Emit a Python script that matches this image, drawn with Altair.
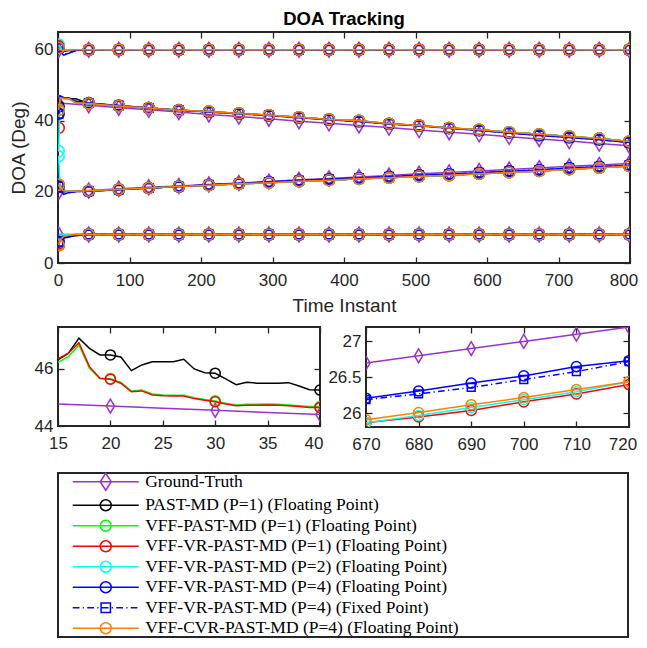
import altair as alt
import pandas as pd

# ---------------- data ----------------
ALGOS = [
    "Ground-Truth",
    "PAST-MD (P=1) (Floating Point)",
    "VFF-PAST-MD (P=1) (Floating Point)",
    "VFF-VR-PAST-MD (P=1) (Floating Point)",
    "VFF-VR-PAST-MD (P=2) (Floating Point)",
    "VFF-VR-PAST-MD (P=4) (Floating Point)",
    "VFF-VR-PAST-MD (P=4) (Fixed Point)",
    "VFF-CVR-PAST-MD (P=4) (Floating Point)",
]
COLORS = ["#9933CC", "#000000", "#00FF00", "#FF0000", "#00FFFF", "#0000FF", "#0000FF", "#FF8000"]

# main panel: marker instants
T_MARK = [1, 43, 85, 127, 169, 211, 253, 295, 337, 379, 421, 463, 505, 547, 589, 631, 673, 715, 757, 799]
# ground truth at marker instants, four sources
GT_S1 = [60.0, 60.0, 60.0, 60.0, 60.0, 60.0, 60.0, 60.0, 60.0, 60.0, 60.0, 60.0, 60.0, 60.0, 60.0, 60.0, 60.0, 60.0, 60.0, 60.0]
GT_S2 = [45.0, 44.4, 43.7, 43.1, 42.5, 41.8, 41.2, 40.6, 39.9, 39.3, 38.7, 38.1, 37.4, 36.8, 36.2, 35.5, 34.9, 34.3, 33.6, 33.0]
GT_S3 = [20.0, 20.4, 20.9, 21.3, 21.7, 22.1, 22.5, 22.9, 23.4, 23.8, 24.2, 24.6, 25.1, 25.5, 25.9, 26.3, 26.7, 27.2, 27.6, 28.0]
GT_S4 = [8.0, 8.0, 8.0, 8.0, 8.0, 8.0, 8.0, 8.0, 8.0, 8.0, 8.0, 8.0, 8.0, 8.0, 8.0, 8.0, 8.0, 8.0, 8.0, 8.0]

# estimates at marker instants 43..799 (after the start-up transient)
EST_S1 = [60.0, 60.0, 60.0, 60.0, 60.0, 60.0, 60.0, 60.0, 60.0, 60.0, 60.0, 60.0, 60.0, 60.0, 60.0, 60.0, 60.0, 60.0, 60.0]
EST_S2 = [44.9, 44.2, 43.6, 43.0, 42.6, 42.1, 41.6, 41.0, 40.4, 40.0, 39.2, 38.7, 38.0, 37.5, 36.8, 36.2, 35.6, 35.0, 34.2]
EST_S2_P4 = [45.0, 44.3, 43.6, 43.0, 42.5, 42.0, 41.5, 40.9, 40.3, 39.8, 39.1, 38.6, 37.9, 37.3, 36.6, 35.9, 35.3, 34.7, 33.9]
EST_S3 = [20.3, 20.7, 21.1, 21.5, 21.9, 22.3, 22.6, 23.0, 23.3, 23.7, 24.0, 24.4, 24.7, 25.1, 25.5, 25.9, 26.4, 26.8, 27.3]
EST_S3_P4 = [20.2, 20.6, 21.1, 21.5, 22.0, 22.4, 22.8, 23.2, 23.6, 23.9, 24.3, 24.7, 25.0, 25.4, 25.8, 26.2, 26.7, 27.1, 27.5]
EST_S4 = [8.0, 8.0, 8.0, 8.0, 8.0, 8.0, 8.0, 8.0, 8.0, 8.0, 8.0, 8.0, 8.0, 8.0, 8.0, 8.0, 8.0, 8.0, 8.0]

# start-up transient instants and values (algorithms 1..7, in legend order)
T_TRANS = [1, 3, 8, 15, 25]
TR_S1 = [
    [61.0, 60.5, 59.5, 59.8, 60.0],
    [61.0, 60.5, 59.8, 60.0, 60.0],
    [61.0, 60.3, 59.8, 60.0, 60.0],
    [61.5, 60.5, 60.0, 60.0, 60.0],
    [60.5, 59.5, 58.5, 59.0, 59.8],
    [60.5, 59.5, 58.7, 59.2, 59.8],
    [60.5, 60.0, 59.8, 60.0, 60.0],
]
TR_S2 = [
    [44.0, 46.5, 46.5, 46.3, 46.2],
    [43.0, 46.5, 46.3, 46.2, 45.1],
    [38.0, 46.5, 46.3, 46.3, 45.1],
    [31.5, 46.5, 46.2, 46.3, 45.1],
    [42.0, 47.0, 46.5, 46.5, 45.5],
    [42.0, 47.0, 46.5, 46.5, 45.5],
    [43.0, 46.5, 46.3, 46.3, 45.1],
]
TR_S3 = [
    [22.0, 21.5, 20.5, 20.0, 20.1],
    [22.0, 21.5, 20.5, 20.2, 20.2],
    [22.0, 22.0, 20.5, 20.2, 20.2],
    [30.0, 21.5, 20.5, 20.2, 20.2],
    [21.5, 20.5, 19.3, 19.8, 20.1],
    [21.5, 20.5, 19.5, 19.8, 20.1],
    [22.0, 21.0, 20.3, 20.2, 20.2],
]
TR_S4 = [
    [5.0, 6.5, 7.0, 7.3, 7.7],
    [5.5, 7.0, 7.5, 7.8, 8.0],
    [5.5, 7.0, 7.5, 7.8, 8.0],
    [6.0, 8.3, 8.0, 8.0, 8.0],
    [6.0, 6.5, 7.0, 7.5, 7.9],
    [6.0, 6.5, 7.0, 7.5, 7.9],
    [5.0, 6.5, 7.5, 7.8, 8.0],
]

# zoom panel 1 (instants 15..40, second source)
ZL_T = [15, 16, 17, 18, 19, 20, 21, 22, 23, 24, 25, 26, 27, 28, 29, 30, 31, 32, 33, 34, 35, 36, 37, 38, 39, 40]
ZL_BLACK = [46.32, 46.55, 47.08, 46.72, 46.49, 46.49, 46.42, 45.94, 46.14, 46.25, 46.25, 46.25, 46.34, 46.0, 45.87, 45.85,
            45.65, 45.45, 45.53, 45.5, 45.5, 45.5, 45.52, 45.4, 45.27, 45.26]
ZL_GREEN = [46.23, 46.43, 46.84, 46.02, 45.66, 45.66, 45.53, 45.23, 45.26, 45.12, 45.09, 45.08, 45.08, 44.99, 44.93, 44.88,
            44.8, 44.74, 44.76, 44.76, 44.77, 44.76, 44.74, 44.71, 44.68, 44.68]
ZL_RED = [46.35, 46.55, 46.92, 46.08, 45.67, 45.64, 45.5, 45.2, 45.23, 45.09, 45.06, 45.05, 45.05, 44.96, 44.9, 44.85,
          44.77, 44.71, 44.73, 44.73, 44.74, 44.73, 44.71, 44.68, 44.65, 44.65]
ZL_GT_T = [15, 20, 25, 30, 35, 40]
ZL_GT = [44.77, 44.7, 44.62, 44.55, 44.47, 44.4]
ZL_MARK = [20, 30, 40]

# zoom panel 2 (instants 670..720, third source)
ZR_T = [670, 680, 690, 700, 710, 720]
ZR_GT = [26.7, 26.8, 26.9, 27.0, 27.1, 27.2]
ZR_RED = [25.87, 25.95, 26.04, 26.16, 26.27, 26.40]
ZR_CYAN = [25.87, 25.97, 26.08, 26.19, 26.30, 26.44]
ZR_BLUE = [26.21, 26.31, 26.42, 26.52, 26.65, 26.73]
ZR_FIXED = [26.19, 26.27, 26.36, 26.47, 26.58, 26.72]
ZR_ORANGE = [25.91, 26.01, 26.12, 26.22, 26.33, 26.44]

# ---------------- tables ----------------
rows = []
for s, gt in enumerate([GT_S1, GT_S2, GT_S3, GT_S4]):
    for t, v in zip(T_MARK, gt):
        rows.append({"algo": ALGOS[0], "src": s, "t": t, "v": v, "mk": 1})
TR = [TR_S1, TR_S2, TR_S3, TR_S4]
for j in range(1, 8):
    p4 = j in (5, 6)
    ests = [EST_S1, EST_S2_P4 if p4 else EST_S2, EST_S3_P4 if p4 else EST_S3, EST_S4]
    for s in range(4):
        times = T_TRANS + T_MARK[1:]
        vals = TR[s][j - 1] + ests[s]
        for t, v in zip(times, vals):
            rows.append({"algo": ALGOS[j], "src": s, "t": t, "v": v, "mk": int(t in T_MARK)})
main_df = pd.DataFrame(rows)

rows = []
for t, v in zip(ZL_GT_T, ZL_GT):
    rows.append({"algo": ALGOS[0], "src": 1, "t": t, "v": v, "mk": int(t in ZL_MARK)})
for j, ser in [(1, ZL_BLACK), (2, ZL_GREEN), (3, ZL_RED)]:
    for t, v in zip(ZL_T, ser):
        rows.append({"algo": ALGOS[j], "src": 1, "t": t, "v": v, "mk": int(t in ZL_MARK)})
zl_df = pd.DataFrame(rows)

rows = []
for j, ser in [(0, ZR_GT), (3, ZR_RED), (4, ZR_CYAN), (5, ZR_BLUE), (6, ZR_FIXED), (7, ZR_ORANGE)]:
    for t, v in zip(ZR_T, ser):
        rows.append({"algo": ALGOS[j], "src": 2, "t": t, "v": v, "mk": 1})
zr_df = pd.DataFrame(rows)

carrier_df = pd.DataFrame({"algo": ALGOS, "t": [None] * len(ALGOS), "v": [None] * len(ALGOS)})

# ---------------- styles ----------------
FONT = "Liberation Sans"
AX = "#262626"
TICK = 6
K = 5.5  # legend path unit in px (sqrt(121)/2)
DASH_PX = [6.7, 3.3, 1.2, 3.3]


def dashdot(x0, x1):
    segs, x, i = [], x0, 0
    while x < x1:
        L = DASH_PX[i % 4] / K
        if i % 2 == 0:
            segs.append(f"M{x:.3f},0L{min(x + L, x1):.3f},0")
        x += L
        i += 1
    return "".join(segs)


LINE_P = "M-6,0L6,0"
CIRC_P = "M1,0A1,1 0 1,0 -1,0A1,1 0 1,0 1,0"
DIAM_P = "M0,-1.55L1,0L0,1.55L-1,0Z"
SQ_P = "M-0.85,-0.85L0.85,-0.85L0.85,0.85L-0.85,0.85Z"
LEG_PATHS = [LINE_P + DIAM_P] + [LINE_P + CIRC_P] * 5 + [dashdot(-6, 6) + SQ_P] + [LINE_P + CIRC_P]

DIAM_M = "M0,-1.35L0.8,0L0,1.35L-0.8,0Z"
SHAPES = [DIAM_M, "circle", "circle", "circle", "circle", "circle", "square", "circle"]
SIZES = [123, 121, 121, 121, 121, 121, 72, 121]


def ax_bottom(vals, title):
    # keep the last label inside the page so the browser does not rescale the picture
    last = vals[-1]
    kw = dict(orient="bottom", values=vals, offset=-TICK, tickSize=TICK, domain=False, grid=False,
              labelPadding=9.5, titlePadding=8, labelFlush=False,
              labelOffset={"expr": f"datum.value == {last} ? -6.5 : 0"})
    kw["title"] = title if title else None
    return alt.Axis(**kw)


def ax_left(vals, title, fmt=None):
    kw = dict(orient="left", values=vals, offset=-TICK, tickSize=TICK, domain=False, grid=False,
              labelPadding=5, titlePadding=6, labelFlush=False)
    kw["title"] = title if title else None
    if fmt:
        kw["format"] = fmt
    return alt.Axis(**kw)


def ax_top(vals):
    return alt.Axis(orient="top", values=vals, offset=-TICK, tickSize=TICK, domain=False, grid=False,
                    labels=False, title=None)


def ax_right(vals):
    return alt.Axis(orient="right", values=vals, offset=-TICK, tickSize=TICK, domain=False, grid=False,
                    labels=False, title=None)


def panel(df, order, xdom, ydom, xvals, yvals, w, h, xtitle=None, ytitle=None, yfmt=None, msc=1.0, extra=None):
    xs = alt.Scale(domain=xdom, nice=False, zero=False)
    ys = alt.Scale(domain=ydom, nice=False, zero=False)
    layers = []
    n = len(order)
    for k, idx in enumerate(order):
        name = ALGOS[idx]
        if k == 0:
            xa, ya = ax_bottom(xvals, xtitle), ax_left(yvals, ytitle, yfmt)
        elif k == n - 1:
            xa, ya = ax_top(xvals), ax_right(yvals)
        else:
            xa, ya = None, None
        lkw = dict(color=COLORS[idx], strokeWidth=1.5, clip=True)
        if idx == 6:
            lkw["strokeDash"] = DASH_PX
        line = alt.Chart().mark_line(**lkw).encode(
            x=alt.X("t:Q", scale=xs, axis=xa),
            y=alt.Y("v:Q", scale=ys, axis=ya),
            detail="src:N",
        ).transform_filter(alt.datum.algo == name)
        pts = alt.Chart().mark_point(
            shape=SHAPES[idx], size=SIZES[idx] * msc, filled=False, color=COLORS[idx],
            strokeWidth=1.5, opacity=1, clip=True,
        ).encode(
            x=alt.X("t:Q", scale=xs, axis=None),
            y=alt.Y("v:Q", scale=ys, axis=None),
        ).transform_filter((alt.datum.algo == name) & (alt.datum.mk == 1))
        layers += [line, pts]
    if extra is not None:
        layers.append(extra(xs, ys))
    return alt.layer(*layers, data=df).resolve_axis(x="independent", y="independent").properties(width=w, height=h)


LEG = alt.Legend(
    orient="none", legendX=0, legendY=441,
    title="\u00a0", titleOrient="right", titlePadding=168.8, titleFontSize=2,
    padding=0, strokeColor=AX, fillColor="white",
    labelFont="Liberation Serif", labelFontSize=17.5, labelColor="black", labelLimit=700,
    symbolSize=121, symbolStrokeWidth=1.5, symbolOffset=39, labelOffset=30.7, rowPadding=1.5,
)


def carrier(xs, ys):
    return alt.Chart(carrier_df).mark_point(filled=False, opacity=1, strokeWidth=1.5, clip=True).encode(
        x=alt.X("t:Q", scale=xs, axis=None),
        y=alt.Y("v:Q", scale=ys, axis=None),
        color=alt.Color("algo:N", scale=alt.Scale(domain=ALGOS, range=COLORS), legend=LEG),
        shape=alt.Shape("algo:N", scale=alt.Scale(domain=ALGOS, range=LEG_PATHS), legend=LEG),
    )


main = panel(main_df, [0, 1, 2, 3, 4, 5, 6, 7], [0, 800], [0, 65],
             [0, 100, 200, 300, 400, 500, 600, 700, 800], [0, 20, 40, 60],
             572, 231, xtitle="Time Instant", ytitle="DOA (Deg)", extra=carrier).properties(
    title=alt.TitleParams("DOA Tracking", font=FONT, fontSize=18.5, fontWeight="bold", color="black", offset=3)
)
zl = panel(zl_df, [0, 1, 2, 3], [15, 40], [44, 47.47], [15, 20, 25, 30, 35, 40], [44, 46], 262, 99, msc=0.85)
zr = panel(zr_df, [0, 3, 4, 5, 6, 7], [670, 720], [25.81, 27.2], [670, 680, 690, 700, 710, 720],
           [26, 26.5, 27], 263, 100, yfmt="~g", msc=0.85)

chart = alt.vconcat(
    main,
    alt.hconcat(zl, zr, spacing=46, bounds="flush"),
    spacing=64, bounds="flush",
).properties(
    padding={"left": 0, "top": 0, "right": 0, "bottom": 0}, background="white"
).configure_axis(
    labelFont=FONT, labelFontSize=17, labelColor=AX, tickColor=AX, tickWidth=1.3,
    titleFont=FONT, titleFontSize=19, titleFontWeight="normal", titleColor=AX,
).configure_legend(strokeWidth=2).configure_view(stroke=AX, strokeWidth=2)

chart.save("out.html", embed_options={"renderer": "svg", "actions": False})
